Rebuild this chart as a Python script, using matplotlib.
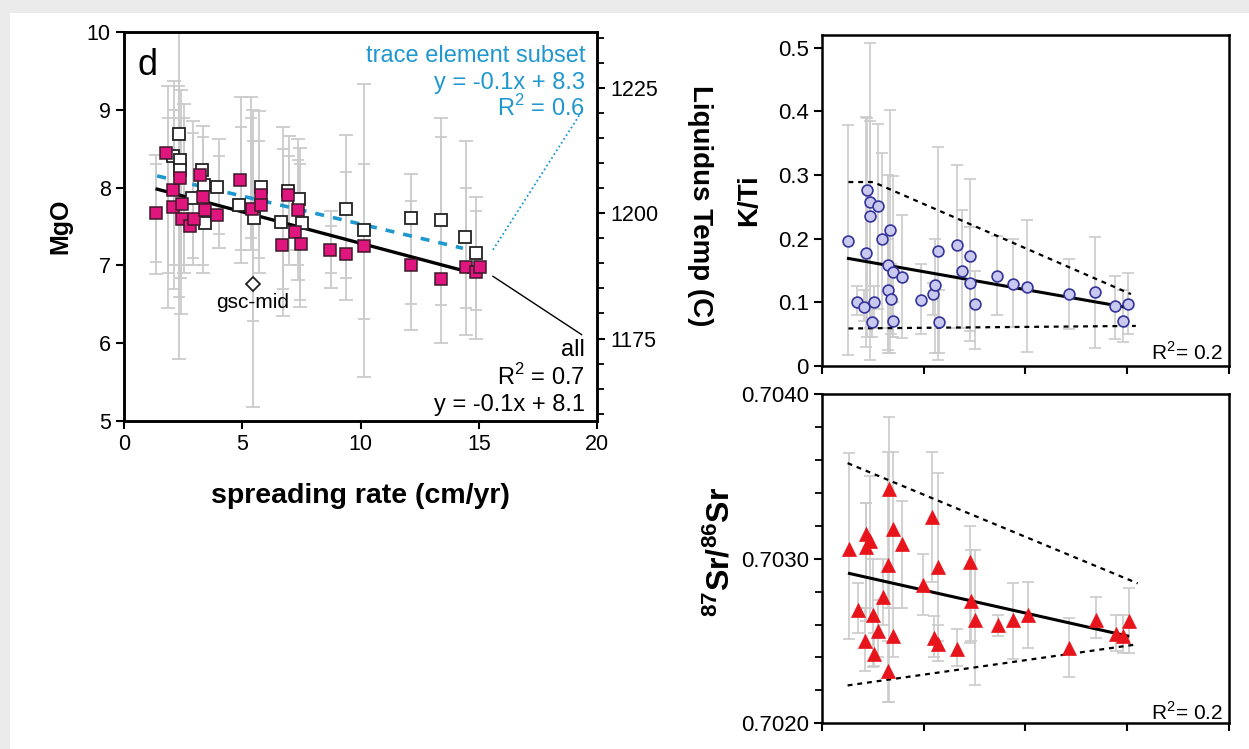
import numpy as np
import matplotlib
matplotlib.use('Agg')
import matplotlib.pyplot as plt
from matplotlib.ticker import MultipleLocator, FormatStrFormatter
from matplotlib.patches import Rectangle

plt.rcParams['font.family'] = ['Liberation Sans', 'DejaVu Sans']
plt.rcParams['mathtext.fontset'] = 'custom'
plt.rcParams['mathtext.rm'] = 'Liberation Sans'
plt.rcParams['mathtext.bf'] = 'Liberation Sans:bold'

# ---- panel d: MgO vs spreading rate ----
pink_x = [1.34, 1.77, 2.05, 2.08, 2.36, 2.44, 2.47, 2.78, 2.97, 3.20, 3.32, 3.43, 3.95, 4.90,
          5.43, 5.79, 5.79, 6.67, 6.92, 7.25, 7.35, 7.48, 8.69, 9.39, 10.14, 12.15, 13.40,
          14.45, 14.87, 15.04]
pink_y = [7.67, 8.44, 7.75, 7.97, 8.12, 7.79, 7.59, 7.50, 7.59, 8.16, 7.88, 7.71, 7.65, 8.10,
          7.73, 7.90, 7.78, 7.26, 7.90, 7.43, 7.71, 7.28, 7.20, 7.15, 7.25, 7.00, 6.83,
          6.98, 6.91, 6.98]
white_x = [2.08, 2.33, 2.36, 2.36, 2.87, 3.29, 3.39, 3.43, 3.95, 4.87, 5.51, 5.79, 6.65,
           6.92, 7.39, 7.52, 9.39, 10.13, 12.15, 13.40, 14.40, 14.87]
white_y = [8.40, 8.69, 8.35, 8.22, 7.86, 8.23, 8.03, 7.55, 8.01, 7.78, 7.61, 8.01, 7.56,
           7.95, 7.85, 7.54, 7.73, 7.46, 7.61, 7.58, 7.36, 7.16]
gsc_x = [5.44]
gsc_y = [6.76]

eb_x = [1.34, 1.84, 2.12, 2.33, 2.40, 2.54, 2.90, 3.36, 4.00, 4.94, 5.36, 5.44, 5.72,
        6.71, 6.99, 7.34, 7.46, 8.75, 9.39, 10.14, 12.15, 13.41, 14.45, 14.87]
eb_lo = [6.89, 6.45, 6.70, 5.80, 6.38, 6.90, 7.00, 6.90, 7.22, 7.03, 7.20, 5.18, 6.90,
         6.35, 7.00, 6.81, 6.47, 6.71, 6.56, 5.57, 6.17, 6.00, 6.10, 6.05]
eb_hi = [8.42, 9.31, 9.37, 10.30, 9.25, 9.07, 8.86, 8.79, 8.62, 9.17, 9.17, 9.00, 8.98,
         8.78, 8.66, 8.62, 8.51, 7.70, 8.68, 9.33, 8.18, 8.90, 8.60, 7.88]
eb_lo_in = [7.05, 6.90, 7.00, 6.60, 6.84, 7.00, 7.10, 7.00, 7.40, 7.20, 7.35, 6.29, 7.10,
            6.70, 7.20, 7.00, 6.56, 6.90, 6.84, 6.31, 6.50, 6.49, 6.45, 6.43]
eb_hi_in = [8.30, 8.90, 9.00, 9.30, 8.90, 8.90, 8.70, 8.65, 8.40, 8.78, 8.90, 8.60, 8.60,
            8.50, 8.40, 8.35, 8.30, 7.50, 8.20, 8.30, 7.83, 8.65, 8.00, 7.70]

fit_all_x = [1.4, 15.0]
fit_all_y = [7.98, 6.88]
lead_all_x = [15.6, 19.35]
lead_all_y = [6.86, 6.11]
fit_te_x = [1.4, 14.33]
fit_te_y = [8.15, 7.22]
lead_te_x = [15.6, 19.4]
lead_te_y = [7.20, 9.0]

# ---- K/Ti ----
kti_x = [1.30, 1.74, 2.07, 2.17, 2.20, 2.36, 2.36, 2.45, 2.58, 2.73, 2.94, 3.22, 3.22, 3.34,
         3.39, 3.48, 3.48, 3.92, 4.85, 5.44, 5.53, 5.68, 5.74, 6.64, 6.90, 7.26, 7.26, 7.51,
         8.60, 9.39, 10.07, 12.16, 13.42, 14.42, 14.81, 15.03]
kti_y = [0.196, 0.101, 0.093, 0.177, 0.276, 0.258, 0.235, 0.069, 0.101, 0.251, 0.199, 0.158,
         0.120, 0.213, 0.106, 0.148, 0.071, 0.140, 0.103, 0.113, 0.127, 0.181, 0.069, 0.190,
         0.149, 0.173, 0.130, 0.097, 0.142, 0.129, 0.124, 0.113, 0.117, 0.095, 0.071, 0.098]
kti_lo = [0.018, 0.080, 0.070, 0.030, 0.045, 0.010, 0.060, 0.045, 0.070, 0.090, 0.060, 0.020,
          0.025, 0.020, 0.050, 0.045, 0.045, 0.044, 0.050, 0.080, 0.020, 0.010, 0.020, 0.060,
          0.060, 0.040, 0.055, 0.026, 0.080, 0.061, 0.022, 0.058, 0.028, 0.043, 0.038, 0.050]
kti_hi = [0.378, 0.125, 0.120, 0.391, 0.390, 0.507, 0.385, 0.100, 0.125, 0.380, 0.335, 0.300,
          0.200, 0.402, 0.160, 0.298, 0.100, 0.238, 0.161, 0.130, 0.200, 0.344, 0.120, 0.315,
          0.245, 0.293, 0.218, 0.150, 0.205, 0.199, 0.230, 0.168, 0.202, 0.142, 0.120, 0.146]
kti_fit_x = [1.30, 14.81]
kti_fit_y = [0.169, 0.093]
kti_up_x = [1.30, 2.52, 15.18]
kti_up_y = [0.289, 0.289, 0.113]
kti_dn_x = [1.30, 15.42]
kti_dn_y = [0.059, 0.063]

# ---- 87Sr/86Sr ----
sr_x = [1.35, 1.79, 2.17, 2.17, 2.34, 2.12, 2.50, 2.58, 2.73, 2.99, 3.31, 3.22, 3.22, 3.48,
        3.51, 3.92, 4.94, 5.39, 5.50, 5.71, 5.71, 6.64, 7.26, 7.30, 7.51, 8.65, 9.39, 10.12,
        12.16, 13.44, 14.45, 14.81, 15.07]
sr_y = [0.70306, 0.70269, 0.70315, 0.70307, 0.70311, 0.70250, 0.70266, 0.70242, 0.70256,
        0.70277, 0.70342, 0.70232, 0.70296, 0.70318, 0.70253, 0.70309, 0.70284, 0.70325,
        0.70252, 0.70248, 0.70295, 0.70245, 0.70298, 0.70274, 0.70263, 0.70260, 0.70263,
        0.70266, 0.70246, 0.70263, 0.70254, 0.70253, 0.70262]
sr_lo = [0.70251, 0.70255, 0.70270, 0.70262, 0.70262, 0.70232, 0.70234, 0.70235, 0.70240,
         0.70260, 0.70213, 0.70213, 0.70270, 0.70270, 0.70240, 0.70270, 0.70266, 0.70286,
         0.70240, 0.70238, 0.70250, 0.70235, 0.70249, 0.70250, 0.70223, 0.70253, 0.70239,
         0.70246, 0.70228, 0.70252, 0.70244, 0.70243, 0.70243]
sr_hi = [0.70364, 0.70285, 0.70334, 0.70334, 0.70350, 0.70270, 0.70300, 0.70255, 0.70275,
         0.70300, 0.70386, 0.70250, 0.70365, 0.70365, 0.70270, 0.70335, 0.70303, 0.70365,
         0.70265, 0.70260, 0.70352, 0.70257, 0.70320, 0.70305, 0.70305, 0.70266, 0.70285,
         0.70286, 0.70264, 0.70277, 0.70266, 0.70266, 0.70282]
sr_fit_x = [1.35, 15.02]
sr_fit_y = [0.70291, 0.70253]
sr_up_x = [1.26, 15.51]
sr_up_y = [0.70358, 0.70285]
sr_dn_x = [1.26, 15.51]
sr_dn_y = [0.70223, 0.70248]

GRAY = '#cbcbcb'
PINK = '#e0157d'
BLUE = '#1f97cf'
dotted = (0, (2.2, 2.2))


def errbars(ax, x, lo, hi, cap=5, lw=1.3):
    x = np.asarray(x)
    lo = np.asarray(lo)
    hi = np.asarray(hi)
    mid = (lo + hi) / 2
    ax.errorbar(x, mid, yerr=(hi - lo) / 2, fmt='none', ecolor=GRAY,
                elinewidth=lw, capsize=cap, capthick=lw, zorder=1)


def style(ax, size=14):
    for s in ax.spines.values():
        s.set_linewidth(1.8)
    ax.tick_params(direction='out', length=6, width=1.5, labelsize=size)


fig = plt.figure(figsize=(12.49, 7.49), dpi=100, facecolor='#ebebeb')
fig.patches.append(Rectangle((10 / 1249, 0), 1, 1 - 13 / 749, transform=fig.transFigure,
                             facecolor='white', edgecolor='none', zorder=-1))

# left panel
ax = fig.add_axes([0.0993, 0.4379, 0.3787, 0.5194])
errbars(ax, eb_x, eb_lo, eb_hi)
errbars(ax, eb_x, eb_lo_in, eb_hi_in, cap=4)
ax.plot(fit_all_x, fit_all_y, color='black', lw=2.4, zorder=2)
ax.plot(lead_all_x, lead_all_y, color='black', lw=1.0, zorder=2)
ax.plot(fit_te_x, fit_te_y, color=BLUE, lw=2.6, ls=(0, (2.5, 2.5)), zorder=2)
ax.plot(lead_te_x, lead_te_y, color=BLUE, lw=1.3, ls=(0, (1, 1.5)), zorder=2)
ax.plot(white_x, white_y, 's', ms=9, mfc='white', mec='#222222', mew=1.3, zorder=3)
ax.plot(pink_x, pink_y, 's', ms=9, mfc=PINK, mec='#3a1a2a', mew=1.1, zorder=4)
ax.plot(gsc_x, gsc_y, 'D', ms=7, mfc='white', mec='#222222', mew=1.3, zorder=4)
ax.text(gsc_x[0], gsc_y[0] - 0.12, 'gsc-mid', ha='center', va='top', fontsize=15)
ax.set_xlim(0, 20)
ax.set_ylim(5, 10)
ax.xaxis.set_major_locator(MultipleLocator(5))
ax.yaxis.set_major_locator(MultipleLocator(1))
style(ax, 15.5)
ax.set_xlabel('spreading rate (cm/yr)', fontsize=20.5, fontweight='bold')
ax.xaxis.set_label_coords(0.5, -0.16)
ax.set_ylabel('MgO', fontsize=18, fontweight='bold')
ax.yaxis.set_label_coords(-0.11, 0.5)
ax.text(0.05, 0.915, 'd', transform=ax.transAxes, fontsize=26, ha='center', va='center')
tkw = dict(transform=ax.transAxes, ha='right', va='center', fontsize=17)
ax.text(0.975, 0.939, 'trace element subset', color=BLUE, **tkw)
ax.text(0.975, 0.869, 'y = -0.1x + 8.3', color=BLUE, **tkw)
ax.text(0.975, 0.805, 'R$^2$ = 0.6', color=BLUE, **tkw)
ax.text(0.975, 0.183, 'all', color='black', **tkw)
ax.text(0.975, 0.114, 'R$^2$ = 0.7', color='black', **tkw)
ax.text(0.975, 0.040, 'y = -0.1x + 8.1', color='black', **tkw)

# liquidus temperature scale (linear in MgO)
axt = ax.twinx()
axt.set_ylim(1200 + (5 - 7.67) * 15.53, 1200 + (10 - 7.67) * 15.53)
axt.yaxis.set_major_locator(MultipleLocator(25))
axt.yaxis.set_minor_locator(MultipleLocator(5))
for s in axt.spines.values():
    s.set_linewidth(1.8)
axt.tick_params(which='major', direction='out', length=6, width=1.5, labelsize=15.5)
axt.tick_params(which='minor', direction='out', length=5, width=1.3)
axt.set_ylabel('Liquidus Temp (C)', fontsize=20, fontweight='bold', rotation=270,
               va='bottom')
axt.yaxis.set_label_coords(1.19, 0.553)

# K/Ti panel
ax2 = fig.add_axes([0.6581, 0.5113, 0.3259, 0.442])
errbars(ax2, kti_x, kti_lo, kti_hi, cap=4.5, lw=1.2)
ax2.plot(kti_fit_x, kti_fit_y, color='black', lw=2.2, zorder=2)
ax2.plot(kti_up_x, kti_up_y, color='black', lw=1.6, ls=dotted, zorder=2)
ax2.plot(kti_dn_x, kti_dn_y, color='black', lw=1.6, ls=dotted, zorder=2)
ax2.plot(kti_x, kti_y, 'o', ms=7.8, mfc='#c9c8ef', mec='#34349a', mew=1.2, zorder=3)
ax2.set_xlim(0, 20)
ax2.set_ylim(0, 0.52)
ax2.xaxis.set_major_locator(MultipleLocator(5))
ax2.yaxis.set_major_locator(MultipleLocator(0.1))
ax2.yaxis.set_major_formatter(FormatStrFormatter('%g'))
ax2.set_xticklabels([])
style(ax2, 16)
ax2.set_ylabel('K/Ti', fontsize=20, fontweight='bold')
ax2.yaxis.set_label_coords(-0.147, 0.5)
ax2.text(0.985, 0.018, 'R$^2$= 0.2', transform=ax2.transAxes, ha='right', va='baseline',
         fontsize=15)

# Sr panel
ax3 = fig.add_axes([0.6581, 0.0343, 0.3259, 0.4397])
errbars(ax3, sr_x, sr_lo, sr_hi, cap=4.5, lw=1.2)
ax3.plot(sr_fit_x, sr_fit_y, color='black', lw=2.2, zorder=2)
ax3.plot(sr_up_x, sr_up_y, color='black', lw=1.6, ls=dotted, zorder=2)
ax3.plot(sr_dn_x, sr_dn_y, color='black', lw=1.6, ls=dotted, zorder=2)
ax3.plot(sr_x, sr_y, '^', ms=9.5, mfc='#e8141c', mec='#e8141c', mew=0.5, zorder=3)
ax3.set_xlim(0, 20)
ax3.set_ylim(0.7020, 0.7040)
ax3.xaxis.set_major_locator(MultipleLocator(5))
ax3.yaxis.set_major_locator(MultipleLocator(0.001))
ax3.yaxis.set_minor_locator(MultipleLocator(0.0002))
ax3.yaxis.set_major_formatter(FormatStrFormatter('%.4f'))
ax3.set_xticklabels([])
style(ax3, 16)
ax3.tick_params(which='minor', direction='out', length=5, width=1.3)
ax3.set_ylabel(r'$\mathbf{^{87}Sr/^{86}Sr}$', fontsize=23)
ax3.yaxis.set_label_coords(-0.21, 0.52)
ax3.text(0.985, 0.01, 'R$^2$= 0.2', transform=ax3.transAxes, ha='right', va='baseline',
         fontsize=15)

fig.savefig('out.png', dpi=100, facecolor=fig.get_facecolor())
